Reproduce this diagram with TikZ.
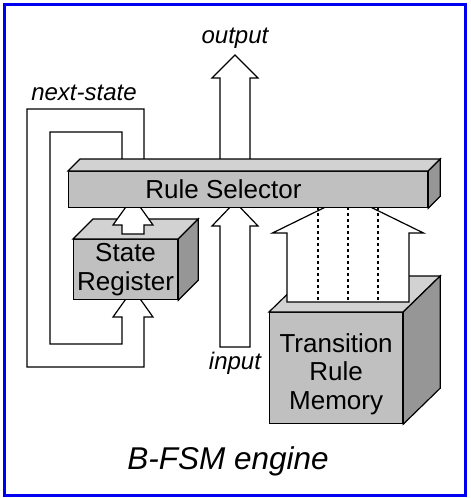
\documentclass[tikz,border=0pt]{standalone}
\usepackage{fontspec}
\setmainfont{Liberation Sans}
\usetikzlibrary{calc}

\definecolor{frontgray}{HTML}{C0C0C0}
\definecolor{topgray}{HTML}{D2D2D2}
\definecolor{sidegray}{HTML}{969696}
\definecolor{frameblue}{HTML}{0000F0}

% drawing order: feedback loop, boxes, block arrows, selector bar on top
\pgfdeclarelayer{loops}
\pgfdeclarelayer{boxes}
\pgfdeclarelayer{arrows}
\pgfsetlayers{loops,boxes,arrows,main}

\tikzset{
  outline/.style={draw=black, line width=1.2pt, line join=miter},
  face/.style={outline, fill=frontgray, inner sep=0pt, anchor=north west},
  blockarrow/.style={outline, fill=white},
  boxlabel/.style={font=\fontsize{26}{28.5}\selectfont, align=center, inner sep=0pt},
  taglabel/.style={font=\fontsize{24}{28}\selectfont\itshape, inner sep=0pt},
  titlelabel/.style={font=\fontsize{31.5}{36}\selectfont\itshape, inner sep=0pt},
  dotline/.style={line width=1.2pt, dash pattern=on 3pt off 3pt},
}

% top and right faces of a solid box whose front face is node #1,
% receding by #2 to the right and #3 upwards
\newcommand\solidfaces[3]{%
  \draw[outline, fill=topgray] (#1.north west) -- ++(#2,-#3)
    -- ($(#1.north east)+(#2,-#3)$) -- (#1.north east) -- cycle;
  \draw[outline, fill=sidegray] (#1.north east) -- ++(#2,-#3)
    -- ($(#1.south east)+(#2,-#3)$) -- (#1.south east) -- cycle;
}

% upward block arrow: x centre, y bottom, y shoulder, y tip,
% shaft half-width, head half-width
\newcommand\blockup[6]{%
  \draw[blockarrow] (#1-#5,#2) -- (#1-#5,#3) -- (#1-#6,#3) -- (#1,#4)
    -- (#1+#6,#3) -- (#1+#5,#3) -- (#1+#5,#2) -- cycle;
}

\begin{document}
\begin{tikzpicture}[x=1pt,y=-1pt]
\useasboundingbox (0,0) rectangle (471,498);

% frame
\draw[frameblue, line width=3pt] (4.5,4.5) rectangle (465.5,495.5);

% selector bar
\node[face, minimum width=359pt, minimum height=36pt] (rs) at (68,171) {};
\solidfaces{rs}{12}{12}
\node[boxlabel] (rstext) at (223.5,189) {Rule Selector};

% labels
\node[taglabel] (nslabel) at (84,93) {next-state};
\node[taglabel] (outlabel) at (235,38) {output};
\node[taglabel] (inlabel) at (235,363) {input};
\node[titlelabel] (title) at (228,461) {B-FSM engine};

% next-state feedback loop into the state register
\begin{pgfonlayer}{loops}
  \draw[blockarrow] (144,165) -- (144,109) -- (27,109) -- (27,367)
    -- (144,367) -- (144,317) -- (153,317) -- (133,289) -- (113,317)
    -- (122,317) -- (122,344) -- (50,344) -- (50,132) -- (122,132)
    -- (122,165) -- cycle;
\end{pgfonlayer}

% boxes
\begin{pgfonlayer}{boxes}
  \node[face, boxlabel, anchor=north west, minimum width=104pt, minimum height=60pt]
    (sr) at (73,239) {State\\Register};
  \solidfaces{sr}{20}{20}
  \node[face, minimum width=133pt, minimum height=111pt] (trm) at (269,312) {};
  \solidfaces{trm}{37}{36}
  \node[boxlabel, text depth=0pt] (trmtext) at ($(trm.center)+(0,3)$)
    {\fontsize{26}{29}\selectfont Transition\\Rule\\Memory};
\end{pgfonlayer}

% block arrows into and out of the selector
\begin{pgfonlayer}{arrows}
  \blockup{133}{234}{225}{197}{11}{20}
  \blockup{235}{347}{226}{202}{15}{23}
  \blockup{235}{165}{78}{55}{15}{23}
  \blockup{348}{302}{233}{196}{61}{75.5}
  \foreach \x in {318,348,378}
    \draw[dotline] (\x,207) -- (\x,302);
\end{pgfonlayer}
\end{tikzpicture}
\end{document}
